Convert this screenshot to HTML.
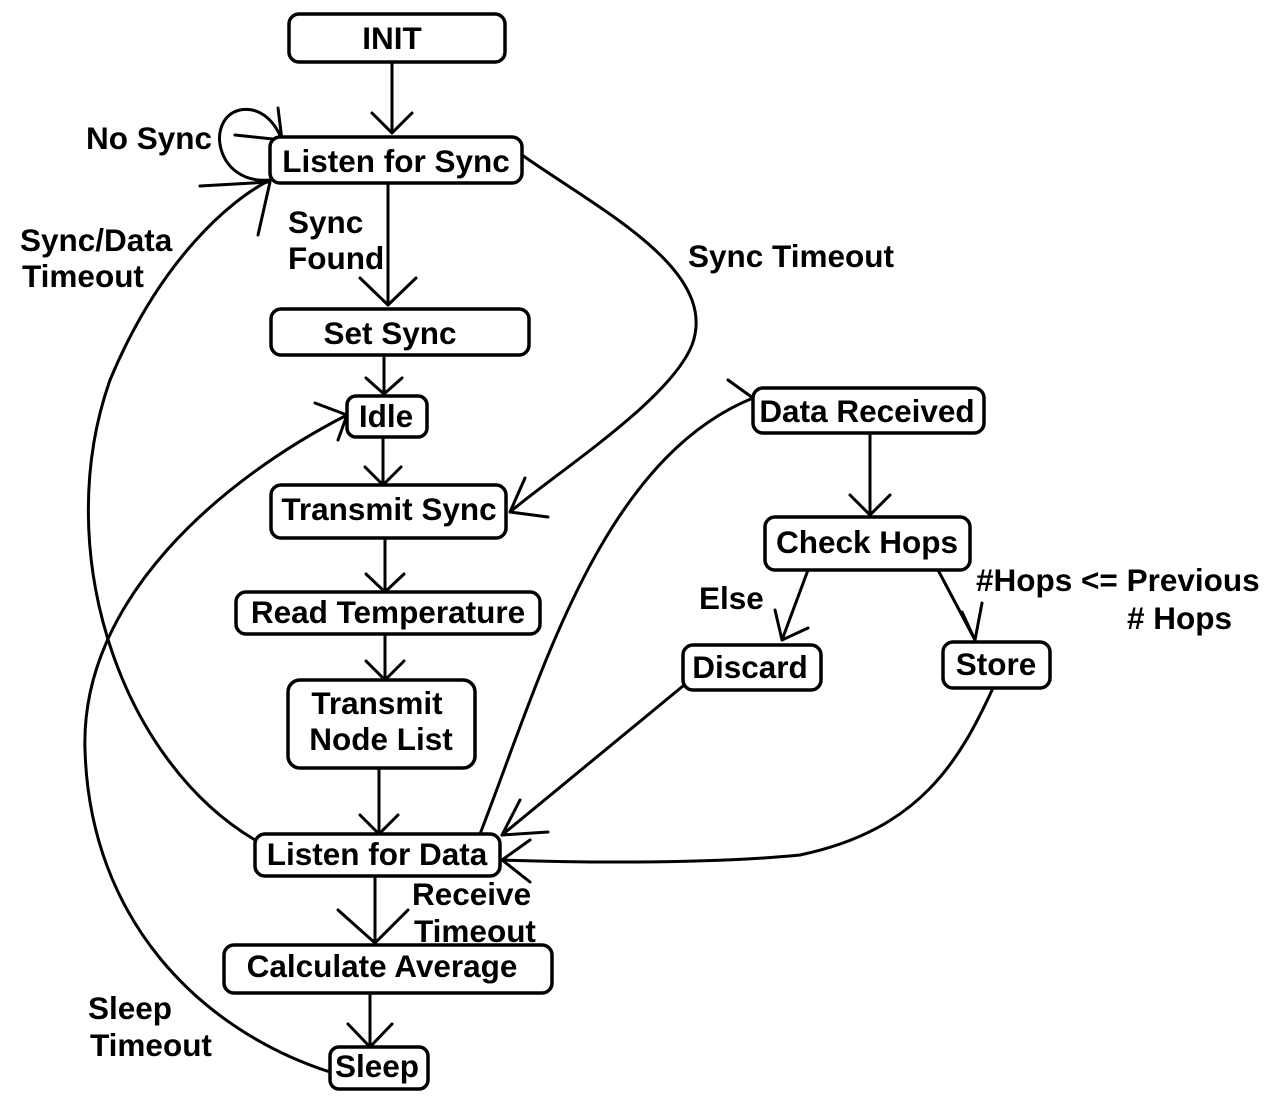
<!DOCTYPE html>
<html><head><meta charset="utf-8"><style>
html,body{margin:0;padding:0;background:#fff;}
svg{display:block;}
text{font-family:"Liberation Sans",Arial,sans-serif;font-weight:bold;font-size:31.5px;fill:#000;}
.b{fill:#fff;stroke:#000;stroke-width:3.5;}
.l{fill:none;stroke:#000;stroke-width:3;stroke-linecap:round;stroke-linejoin:round;}
</style></head><body>
<svg width="1273" height="1096" viewBox="0 0 1273 1096" xmlns="http://www.w3.org/2000/svg">
<g class="l">
<path d="M392,62 L392,133 M372,113 L392,133 L412,113"/>
<path d="M388,183 L388,305 M360,278 L388,305 L416,278"/>
<path d="M384,355 L384,394 M366,378 L384,394 L402,378"/>
<path d="M383,437 L383,485 M365,467 L383,485 L401,467"/>
<path d="M385,538 L385,592 M366,574 L385,592 L404,574"/>
<path d="M385,634 L385,680 M366,661 L385,680 L404,661"/>
<path d="M379,768 L379,834 M360,815 L379,834 L398,815"/>
<path d="M375,876 L375,943 M338,910 L375,943 L408,910"/>
<path d="M370,993 L370,1047 M348,1024 L370,1047 L392,1024"/>
<path d="M522,155 C600,210 720,270 692,345 C670,400 560,470 510,512 M548,517 L510,512 L525,478"/>
<path d="M270,180 C215,185 205,118 240,110 C262,106 276,124 282,140 M200,186 L270,182 L258,235 M278,108 L282,140 L235,135"/>
<path d="M255,840 C120,760 50,550 110,380 C160,260 230,200 270,180"/>
<path d="M330,1072 C200,1030 90,920 85,750 C80,600 220,480 347,415 M315,403 L347,415 L338,440"/>
<path d="M480,834 C540,680 600,460 753,398 M728,380 L753,398 L753,422"/>
<path d="M870,433 L870,515 M850,495 L870,515 L890,495"/>
<path d="M808,570 L782,640 M775,610 L782,640 L808,628"/>
<path d="M938,570 L975,640 M962,612 L975,640 L982,603"/>
<path d="M683,686 L502,835 M548,832 L502,835 L520,800"/>
<path d="M993,688 C960,760 920,830 800,855 C700,865 560,862 502,860 M530,840 L502,860 L530,882"/>
</g>
<rect class="b" x="289" y="14" width="216" height="48" rx="10"/>
<rect class="b" x="270" y="137" width="252" height="46" rx="10"/>
<rect class="b" x="271" y="309" width="258" height="46" rx="10"/>
<rect class="b" x="347" y="396" width="80" height="41" rx="9"/>
<rect class="b" x="271" y="485" width="235" height="53" rx="10"/>
<rect class="b" x="236" y="592" width="304" height="42" rx="10"/>
<rect class="b" x="288" y="680" width="187" height="88" rx="12"/>
<rect class="b" x="255" y="834" width="245" height="42" rx="10"/>
<rect class="b" x="224" y="945" width="328" height="48" rx="10"/>
<rect class="b" x="330" y="1047" width="98" height="42" rx="9"/>
<rect class="b" x="753" y="388" width="231" height="45" rx="10"/>
<rect class="b" x="765" y="517" width="205" height="53" rx="10"/>
<rect class="b" x="683" y="645" width="138" height="45" rx="10"/>
<rect class="b" x="943" y="642" width="107" height="46" rx="10"/>
<g text-anchor="middle">
<text x="392" y="49">INIT</text>
<text x="396" y="172">Listen for Sync</text>
<text x="390" y="344">Set Sync</text>
<text x="386" y="427">Idle</text>
<text x="389" y="520">Transmit Sync</text>
<text x="388" y="623">Read Temperature</text>
<text x="377" y="714">Transmit</text>
<text x="381" y="750">Node List</text>
<text x="377" y="865">Listen for Data</text>
<text x="382" y="977">Calculate Average</text>
<text x="377" y="1077">Sleep</text>
<text x="867" y="422">Data Received</text>
<text x="867" y="553">Check Hops</text>
<text x="750" y="678">Discard</text>
<text x="996" y="675">Store</text>
</g>
<text x="86" y="149">No Sync</text>
<text x="20" y="251">Sync/Data</text>
<text x="22" y="287">Timeout</text>
<text x="288" y="233">Sync</text>
<text x="288" y="269">Found</text>
<text x="688" y="267">Sync Timeout</text>
<text x="699" y="609">Else</text>
<text x="976" y="591">#Hops &lt;= Previous</text>
<text x="1127" y="629"># Hops</text>
<text x="412" y="905">Receive</text>
<text x="414" y="942">Timeout</text>
<text x="88" y="1019">Sleep</text>
<text x="90" y="1056">Timeout</text>
</svg>
</body></html>
